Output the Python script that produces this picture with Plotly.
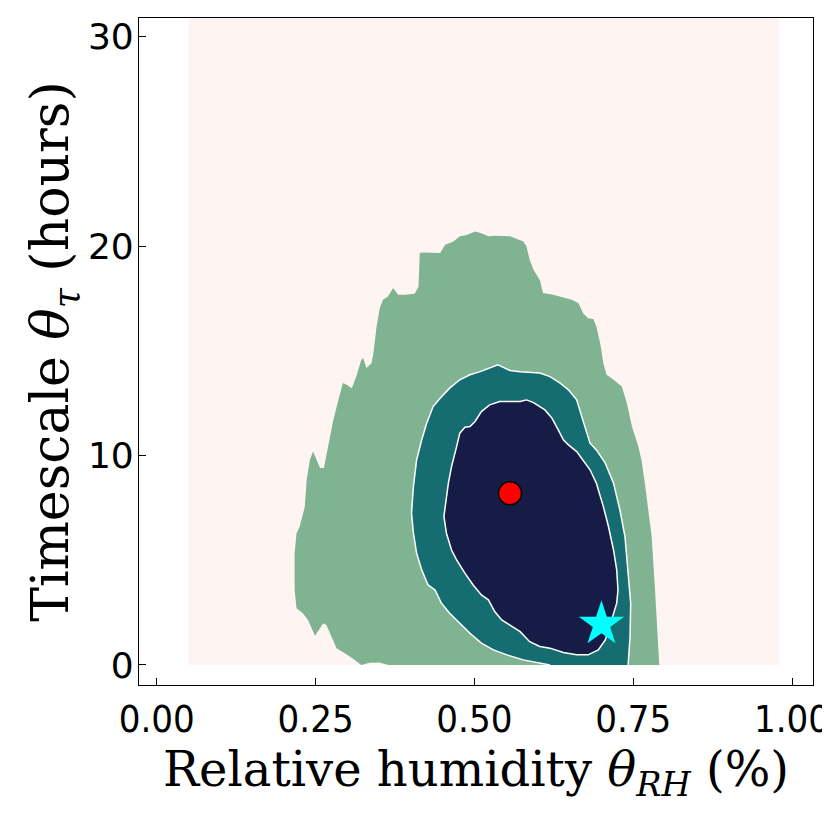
import plotly.graph_objects as go

# ---- data ----
grid_x = [0.05, 0.98]          # extent of the evaluated grid (background level)
grid_y = [0.0, 30.9]

level1_x = [0.322, 0.304, 0.283, 0.267, 0.262, 0.249, 0.238, 0.230, 0.220, 0.217, 0.217, 0.220,
            0.225, 0.233, 0.236, 0.241, 0.246, 0.257, 0.263, 0.270, 0.278, 0.286, 0.293, 0.299,
            0.307, 0.314, 0.322, 0.325, 0.330, 0.338, 0.341, 0.346, 0.351, 0.356, 0.364, 0.372,
            0.380, 0.391, 0.406, 0.412, 0.414, 0.419, 0.446, 0.454, 0.467, 0.477, 0.488, 0.501,
            0.511, 0.522, 0.532, 0.556, 0.566, 0.577, 0.582, 0.587, 0.593, 0.603, 0.608, 0.624,
            0.637, 0.653, 0.664, 0.671, 0.679, 0.687, 0.692, 0.698, 0.703, 0.708, 0.719, 0.732,
            0.740, 0.748, 0.758, 0.763, 0.769, 0.774, 0.779, 0.784, 0.787, 0.791,
            0.365, 0.350, 0.335]
level1_y = [0.00, 0.40, 0.80, 1.91, 1.99, 1.39, 2.15, 2.47, 2.71, 3.58, 5.34, 6.29,
            6.61, 7.56, 8.84, 9.79, 10.19, 9.40, 9.40, 10.43, 11.71, 12.66, 13.46, 13.38,
            13.22, 13.77, 14.57, 14.65, 14.18, 14.41, 14.89, 16.16, 17.04, 17.44, 17.60, 18.00,
            17.68, 17.68, 17.73, 18.08, 19.67, 19.70, 19.67, 20.07, 20.23, 20.47, 20.54, 20.70,
            20.62, 20.47, 20.50, 20.47, 20.34, 20.23, 19.99, 19.35, 18.87, 18.39, 17.76, 17.68,
            17.57, 17.44, 17.28, 16.80, 16.56, 16.52, 16.16, 15.37, 14.41, 13.86, 13.62, 13.30,
            12.50, 11.39, 10.43, 9.79, 8.52, 7.41, 6.13, 3.74, 2.15, 0.00,
            0.00, 0.12, 0.10]

level2_x = [0.619, 0.603, 0.577, 0.551, 0.530, 0.511, 0.493, 0.477, 0.461, 0.448, 0.438, 0.427,
            0.417, 0.409, 0.404, 0.401, 0.404, 0.409, 0.417, 0.425, 0.435, 0.446, 0.461, 0.477,
            0.493, 0.509, 0.524, 0.537, 0.543, 0.556, 0.572, 0.587, 0.603, 0.619, 0.635, 0.648,
            0.661, 0.669, 0.677, 0.682, 0.692, 0.706, 0.719, 0.729, 0.737, 0.742, 0.746, 0.745,
            0.742]
level2_y = [0.00, 0.08, 0.24, 0.48, 0.72, 1.04, 1.51, 1.99, 2.47, 2.95, 3.58, 3.82,
            4.54, 5.34, 6.29, 7.25, 8.52, 9.79, 10.75, 11.55, 12.34, 12.74, 13.22, 13.62,
            13.86, 14.01, 14.18, 14.33, 14.25, 14.06, 14.00, 13.97, 13.94, 13.77, 13.46, 13.14,
            12.66, 11.86, 11.07, 10.59, 10.27, 9.64, 8.68, 7.41, 6.13, 4.54, 2.95, 1.35,
            0.00]

level3_x = [0.582, 0.572, 0.556, 0.540, 0.524, 0.511, 0.501, 0.493, 0.485, 0.477, 0.472, 0.464,
            0.459, 0.456, 0.452, 0.456, 0.464, 0.472, 0.485, 0.498, 0.511, 0.522, 0.532, 0.543,
            0.556, 0.572, 0.587, 0.603, 0.619, 0.640, 0.661, 0.679, 0.695, 0.706, 0.716, 0.724,
            0.726, 0.724, 0.719, 0.711, 0.703, 0.692, 0.682, 0.671, 0.661, 0.648, 0.640, 0.632,
            0.622, 0.611, 0.600, 0.593, 0.582]
level3_y = [12.66, 12.58, 12.58, 12.58, 12.42, 12.10, 11.63, 11.39, 11.35, 11.07, 10.43, 9.47,
            8.68, 7.88, 7.09, 6.29, 5.49, 5.02, 4.38, 3.82, 3.34, 3.11, 2.55, 2.15,
            1.91, 1.59, 1.11, 0.88, 0.80, 0.59, 0.48, 0.48, 0.72, 1.19, 2.15, 2.95,
            3.58, 4.54, 5.49, 6.61, 7.56, 8.68, 9.32, 9.79, 10.19, 10.51, 10.75, 11.23,
            11.79, 12.18, 12.42, 12.53, 12.66]

estimate_x = [0.556]
estimate_y = [8.20]
truth_x = [0.700]
truth_y = [1.95]

x_ticks = [0.0, 0.25, 0.5, 0.75, 1.0]
x_tick_text = ["0.00", "0.25", "0.50", "0.75", "1.00"]
y_ticks = [0, 10, 20, 30]
y_tick_text = ["0", "10", "20", "30"]

colors = ["#fef4f1", "#7fb391", "#166d71", "#161c45"]

fig = go.Figure()

# background level
fig.add_trace(go.Scatter(
    x=[grid_x[0], grid_x[1], grid_x[1], grid_x[0], grid_x[0]],
    y=[grid_y[0], grid_y[0], grid_y[1], grid_y[1], grid_y[0]],
    mode="lines", fill="toself", fillcolor=colors[0], line=dict(width=0),
    hoverinfo="skip", showlegend=False))

fig.add_trace(go.Scatter(x=level1_x, y=level1_y, mode="lines", fill="toself",
                         fillcolor=colors[1], line=dict(width=0), showlegend=False))
fig.add_trace(go.Scatter(x=level2_x, y=level2_y, mode="lines", fill="toself",
                         fillcolor=colors[2], line=dict(width=0), showlegend=False))
fig.add_trace(go.Scatter(x=level2_x, y=level2_y, mode="lines",
                         line=dict(color="white", width=1.5), showlegend=False))
fig.add_trace(go.Scatter(x=level3_x, y=level3_y, mode="lines", fill="toself",
                         fillcolor=colors[3], line=dict(color="white", width=1.5),
                         showlegend=False))

fig.add_trace(go.Scatter(x=estimate_x, y=estimate_y, mode="markers",
                         marker=dict(symbol="circle", size=23, color="red",
                                     line=dict(color="black", width=1.5)),
                         showlegend=False))
fig.add_trace(go.Scatter(x=truth_x, y=truth_y, mode="markers",
                         marker=dict(symbol="star", size=34, color="#00ffff",
                                     line=dict(width=0)),
                         showlegend=False))

# the page body has an 8px margin, so the figure is 822 wide/high
fig.update_layout(
    width=822, height=822,
    margin=dict(l=131, r=17, t=10, b=145),
    paper_bgcolor="white", plot_bgcolor="white",
)
fig.update_xaxes(
    range=[-0.028, 1.033], tickvals=x_ticks, ticktext=x_tick_text,
    ticks="inside", ticklen=7, tickwidth=1, tickcolor="black",
    showline=True, linecolor="black", linewidth=1.2, mirror=True,
    showgrid=False, zeroline=False, automargin=False,
    ticklabeloverflow="allow",
    tickfont=dict(family="DejaVu Sans Condensed, Liberation Sans Narrow, DejaVu Sans", size=38, color="black"),
    title=dict(text="Relative humidity <i>θ</i><sub><i>RH</i></sub> (%)",
               font=dict(family="DejaVu Serif, Liberation Serif, serif", size=48, color="black"),
               standoff=4),
)
fig.update_yaxes(
    range=[-0.96, 30.9], tickvals=y_ticks, ticktext=y_tick_text,
    ticks="inside", ticklen=7, tickwidth=1, tickcolor="black",
    showline=True, linecolor="black", linewidth=1.2, mirror=True,
    showgrid=False, zeroline=False, automargin=False,
    ticklabeloverflow="allow", ticklabelstandoff=-3,
    tickfont=dict(family="DejaVu Sans", size=36, color="black"),
    title=dict(text="Timescale <i>θ</i><sub><i>τ</i></sub> (hours)",
               font=dict(family="DejaVu Serif, Liberation Serif, serif", size=52, color="black"),
               standoff=2),
)

fig.write_html("out.html")
